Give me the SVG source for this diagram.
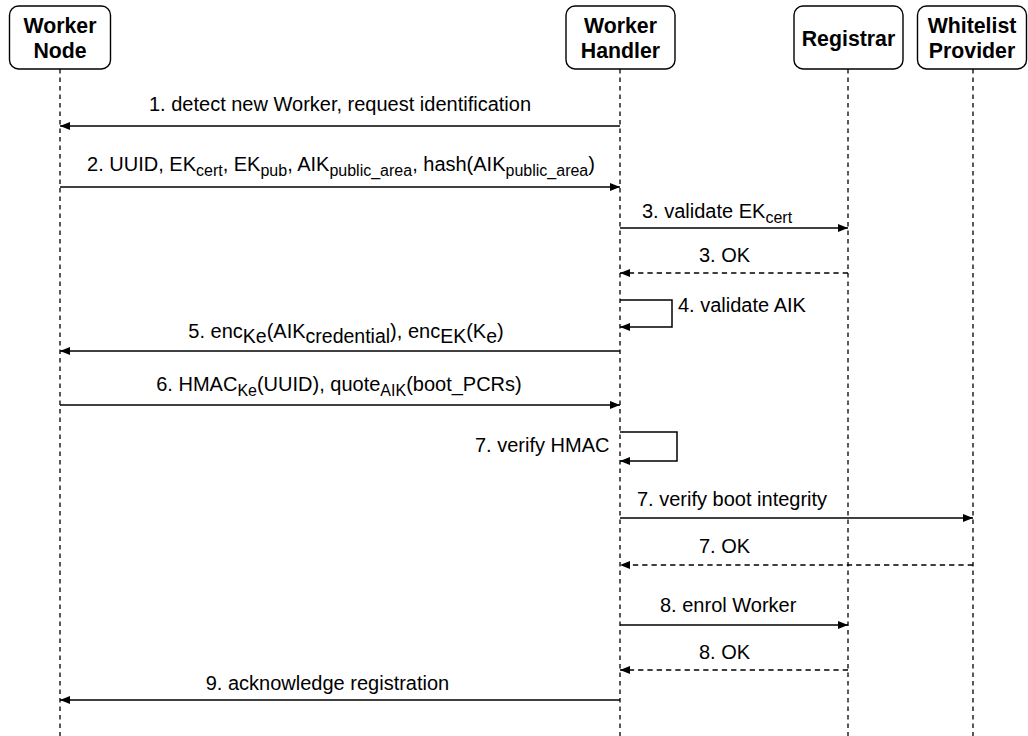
<svg xmlns="http://www.w3.org/2000/svg" width="1028" height="736" viewBox="0 0 1028 736">
<style>
.box{fill:#fff;stroke:#000;stroke-width:1.4}
.hdr{font-family:'Liberation Sans',Arial,sans-serif;font-weight:bold;font-size:21.3px;fill:#000;text-anchor:middle}
.life{stroke:#000;stroke-width:1.3;stroke-dasharray:4.5 4;fill:none}
.msg{stroke:#000;stroke-width:1.5;fill:none;marker-end:url(#ah)}
.ret{stroke:#000;stroke-width:1.5;fill:none;stroke-dasharray:5.3 4;marker-end:url(#ah)}
.lbl{font-family:'Liberation Sans',Arial,sans-serif;font-size:20px;fill:#000}
.s{font-size:16px}
.s2{font-size:19.5px}
.m{text-anchor:middle}
</style>
<defs>
<marker id="ah" markerUnits="userSpaceOnUse" markerWidth="12" markerHeight="10" refX="10" refY="4" orient="auto">
<path d="M0,0 L10,4 L0,8 Z" fill="#000"/>
</marker>
</defs>
<g id="lifelines">
<line class="life" x1="60" y1="69" x2="60" y2="736"/>
<line class="life" x1="620" y1="69" x2="620" y2="736"/>
<line class="life" x1="848" y1="69" x2="848" y2="736"/>
<line class="life" x1="973" y1="69" x2="973" y2="736"/>
</g>
<g id="worker-node">
<rect class="box" x="9.5" y="6" width="101" height="63" rx="9"/>
<text class="hdr" x="60" y="33">Worker</text>
<text class="hdr" x="60" y="58">Node</text>
</g>
<g id="worker-handler">
<rect class="box" x="566" y="6" width="109" height="63" rx="9"/>
<text class="hdr" x="620.5" y="33">Worker</text>
<text class="hdr" x="620.5" y="58">Handler</text>
</g>
<g id="registrar">
<rect class="box" x="794" y="6" width="109" height="63" rx="9"/>
<text class="hdr" x="848.5" y="46">Registrar</text>
</g>
<g id="whitelist-provider">
<rect class="box" x="917.5" y="6" width="109" height="63" rx="9"/>
<text class="hdr" x="972" y="33">Whitelist</text>
<text class="hdr" x="972" y="58">Provider</text>
</g>
<g id="connectors">
<line class="msg" x1="620" y1="126" x2="60" y2="126"/>
<line class="msg" x1="60" y1="187" x2="620" y2="187"/>
<line class="msg" x1="620" y1="228" x2="848" y2="228"/>
<line class="ret" x1="848" y1="273" x2="620" y2="273"/>
<path class="msg" d="M620,300 H672 V327 H620"/>
<line class="msg" x1="620" y1="351" x2="60" y2="351"/>
<line class="msg" x1="60" y1="405" x2="620" y2="405"/>
<path class="msg" d="M620,432 H677 V461 H620"/>
<line class="msg" x1="620" y1="518" x2="973" y2="518"/>
<line class="ret" x1="973" y1="565" x2="620" y2="565"/>
<line class="msg" x1="620" y1="625" x2="848" y2="625"/>
<line class="ret" x1="848" y1="670" x2="620" y2="670"/>
<line class="msg" x1="620" y1="700" x2="60" y2="700"/>
</g>
<g id="labels">
<text class="lbl m" x="340" y="111">1. detect new Worker, request identification</text>
<text class="lbl m" x="341" y="171">2. UUID, EK<tspan class="s" dy="5">cert</tspan><tspan dy="-5">, EK</tspan><tspan class="s" dy="5">pub</tspan><tspan dy="-5">, AIK</tspan><tspan class="s" dy="5">public_area</tspan><tspan dy="-5">, hash(AIK</tspan><tspan class="s" dy="5">public_area</tspan><tspan dy="-5">)</tspan></text>
<text class="lbl" x="642" y="218">3. validate EK<tspan class="s" dy="5">cert</tspan></text>
<text class="lbl" x="699" y="262">3. OK</text>
<text class="lbl" x="678" y="312">4. validate AIK</text>
<text class="lbl m" x="346" y="338">5. enc<tspan class="s2" dy="5">Ke</tspan><tspan dy="-5">(AIK</tspan><tspan class="s2" dy="5">credential</tspan><tspan dy="-5">), enc</tspan><tspan class="s2" dy="5">EK</tspan><tspan dy="-5">(K</tspan><tspan class="s2" dy="5">e</tspan><tspan dy="-5">)</tspan></text>
<text class="lbl m" x="339" y="391">6. HMAC<tspan class="s" dy="5">Ke</tspan><tspan dy="-5">(UUID), quote</tspan><tspan class="s" dy="5">AIK</tspan><tspan dy="-5">(boot_PCRs)</tspan></text>
<text class="lbl" x="475" y="452">7. verify HMAC</text>
<text class="lbl" x="637" y="506">7. verify boot integrity</text>
<text class="lbl" x="699" y="553">7. OK</text>
<text class="lbl" x="660" y="612">8. enrol Worker</text>
<text class="lbl" x="699" y="659">8. OK</text>
<text class="lbl m" x="327.5" y="690">9. acknowledge registration</text>
</g>
</svg>
